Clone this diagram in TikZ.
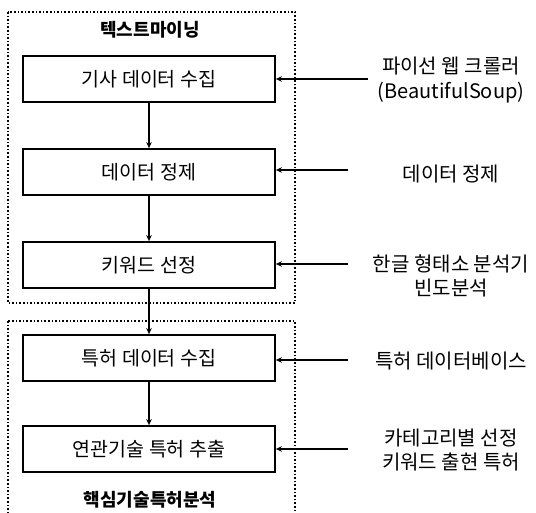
\documentclass[tikz,border=0pt]{standalone}
\usepackage{fontspec}
\setmainfont{Noto Sans CJK KR}
\usetikzlibrary{arrows.meta}
\begin{document}
\begin{tikzpicture}[x=1pt,y=-1pt,
  stepbox/.style={draw,line width=1.8pt,minimum width=252pt,minimum height=46pt,inner sep=0pt,font=\fontsize{19.5}{22}\selectfont},
  group/.style={draw,line width=1.6pt,dotted},
  flow/.style={line width=1.6pt,-{Stealth[length=6pt,width=5.5pt]}},
  lab/.style={align=center,font=\fontsize{20}{24.5}\selectfont},
  ttl/.style={font=\bfseries\fontsize{18}{20}\selectfont}]
\useasboundingbox (0,0) rectangle (536,513);
\begin{scope}
\clip (0,0) rectangle (536,513);
\draw[group] (8,12) rectangle (295,303);
\draw[group] (8,321) rectangle (295,530);
\end{scope}
\node[ttl] (t1) at (150,30) {텍스트마이닝};
\node[ttl] (t2) at (150,500) {핵심기술특허분석};
\node[stepbox] (b1) at (149,79) {기사 데이터 수집};
\node[stepbox] (b2) at (149,172) {데이터 정제};
\node[stepbox] (b3) at (149,265) {키워드 선정};
\node[stepbox] (b4) at (149,358) {특허 데이터 수집};
\node[stepbox] (b5) at (149,449) {연관기술 특허 추출};
\draw[flow] (b1) -- (b2);
\draw[flow] (b2) -- (b3);
\draw[flow] (b3) -- (b4);
\draw[flow] (b4) -- (b5);
\coordinate (s1) at (368,79);
\coordinate (s2) at (348,170);
\coordinate (s3) at (348,264);
\coordinate (s4) at (348,360);
\coordinate (s5) at (348,449);
\draw[flow] (s1) -- (s1 -| b1.east);
\draw[flow] (s2) -- (s2 -| b2.east);
\draw[flow] (s3) -- (s3 -| b3.east);
\draw[flow] (s4) -- (s4 -| b4.east);
\draw[flow] (s5) -- (s5 -| b5.east);
\node[lab] (l1) at (451,80) {파이선 웹 크롤러\\(BeautifulSoup)};
\node[lab] (l2) at (451,174) {데이터 정제};
\node[lab] (l3) at (451,276) {한글 형태소 분석기\\빈도분석};
\node[lab] (l4) at (451,361) {특허 데이터베이스};
\node[lab] (l5) at (451,450) {카테고리별 선정\\키워드 출현 특허};
\end{tikzpicture}
\end{document}
